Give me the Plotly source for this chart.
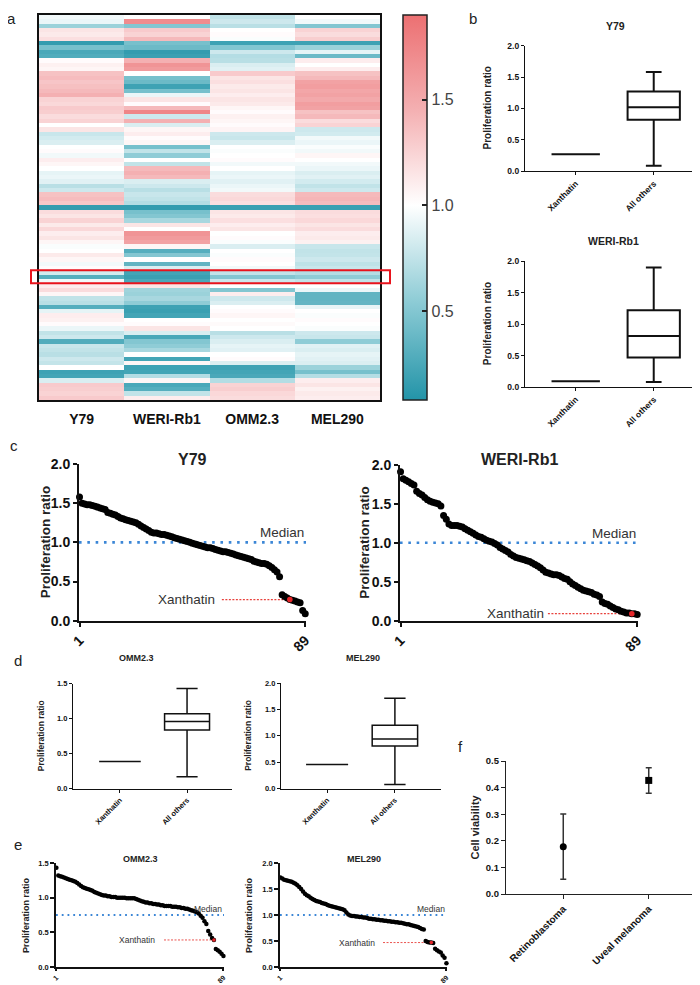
import plotly.graph_objects as go

W, H = 700, 985
FONT = "Liberation Sans, Arial, sans-serif"

# ---------------- data ----------------
cell_lines = ["Y79", "WERI-Rb1", "OMM2.3", "MEL290"]

heat_y79 = [0.95, 0.92, 0.60, 1.15, 1.12, 1.18, 0.15, 0.45, 0.25, 0.28,
            1.02, 1.08, 1.05, 1.35, 1.38, 1.33, 1.36, 1.40, 1.45, 1.25,
            1.22, 1.30, 1.28, 1.20, 1.25, 1.00, 1.15, 0.78, 0.82, 0.85,
            1.00, 1.02, 0.95, 1.10, 1.05, 1.00, 0.90, 0.92, 0.88, 0.72,
            0.80, 1.35, 1.38, 1.32, 0.15, 1.20, 1.15, 1.25, 1.12, 1.22,
            1.10, 1.15, 1.05, 0.98, 1.00, 1.12, 1.05, 0.95, 1.02, 0.82,
            0.30, 0.95, 1.10, 1.20, 1.05, 0.75, 0.72, 0.30, 0.90, 1.10,
            1.08, 1.02, 0.92, 0.75, 0.80, 0.28, 0.78, 0.75, 0.72, 0.80,
            0.76, 1.00, 0.20, 0.22, 0.85, 1.30, 1.28, 1.25, 1.30]
heat_weri = [1.00, 1.70, 0.50, 1.30, 1.25, 1.40, 0.45, 0.40, 0.15, 0.18,
             1.45, 1.65, 1.60, 1.00, 0.45, 0.40, 0.20, 0.45, 0.92, 1.15,
             1.02, 1.40, 1.75, 0.80, 1.45, 0.85, 1.05, 1.10, 1.02, 1.05,
             0.45, 0.75, 0.55, 1.00, 0.75, 1.40, 1.45, 1.40, 0.85, 0.80,
             0.72, 0.78, 0.75, 0.70, 0.15, 0.45, 0.50, 0.65, 1.15, 1.00,
             1.65, 1.60, 1.55, 1.05, 0.30, 0.50, 1.00, 0.35, 0.85, 0.22,
             0.18, 0.25, 1.15, 0.62, 0.60, 0.65, 0.55, 0.20, 0.18, 0.22,
             1.00, 1.02, 1.15, 0.85, 0.25, 0.50, 0.55, 0.65, 1.00, 0.22,
             1.05, 0.20, 0.22, 0.70, 1.05, 0.25, 0.30, 0.75, 1.10]
heat_omm = [0.75, 0.80, 0.72, 1.00, 1.02, 0.98, 0.20, 0.50, 0.80, 0.70,
            0.72, 0.85, 0.88, 1.30, 1.15, 1.18, 1.12, 1.15, 1.10, 1.15,
            1.12, 1.05, 1.02, 1.08, 1.05, 1.02, 1.06, 0.80, 0.78, 0.85,
            1.00, 0.98, 1.00, 1.02, 0.95, 1.00, 0.90, 0.92, 0.88, 0.92,
            0.95, 1.20, 1.22, 1.18, 0.18, 1.15, 1.12, 1.18, 1.10, 1.15,
            1.00, 1.02, 0.98, 0.85, 1.00, 0.98, 1.02, 1.00, 0.95, 0.75,
            0.50, 0.80, 1.00, 0.50, 1.10, 0.80, 0.85, 1.00, 1.02, 1.05,
            1.00, 1.03, 1.00, 0.72, 0.80, 0.85, 0.90, 0.88, 1.00, 1.02,
            0.85, 0.20, 0.22, 0.25, 0.70, 1.25, 1.28, 1.22, 1.20]
heat_mel = [1.00, 0.95, 0.50, 1.25, 1.20, 1.28, 0.20, 0.60, 0.90, 0.40,
            1.10, 1.00, 1.10, 1.35, 1.40, 1.55, 1.58, 1.52, 1.55, 1.50,
            1.58, 1.55, 1.35, 1.40, 1.20, 1.25, 0.80, 0.82, 0.95, 0.92,
            0.98, 0.95, 1.05, 1.00, 0.95, 0.92, 0.85, 0.88, 0.82, 0.75,
            0.80, 1.40, 1.42, 1.38, 0.18, 1.20, 1.18, 1.22, 1.15, 1.20,
            1.10, 1.12, 1.08, 0.78, 0.75, 0.76, 0.80, 0.74, 0.78, 0.70,
            0.55, 0.75, 1.00, 0.92, 0.35, 0.35, 0.36, 0.90, 1.00, 0.98,
            1.02, 1.00, 0.98, 0.80, 0.78, 0.55, 0.88, 0.85, 0.90, 0.88,
            0.85, 0.60, 0.45, 0.70, 1.10, 1.15, 1.08, 1.12, 1.10]
xanthatin_row = 60  # highlighted row in heat map

# box-plot summaries: [lower whisker, Q1, median, Q3, upper whisker]
box_others = {
    "Y79":      [0.09, 0.82, 1.02, 1.27, 1.58],
    "WERI-Rb1": [0.08, 0.47, 0.81, 1.22, 1.90],
    "OMM2.3":   [0.17, 0.84, 0.96, 1.07, 1.43],
    "MEL290":   [0.08, 0.81, 0.94, 1.20, 1.71],
}
xanthatin_ratio = {"Y79": 0.27, "WERI-Rb1": 0.09, "OMM2.3": 0.39, "MEL290": 0.46}

# ranked proliferation ratios (89 compounds)
rank_y79 = [1.58, 1.50, 1.49, 1.48, 1.48, 1.47, 1.46, 1.45, 1.44, 1.43,
            1.42, 1.38, 1.37, 1.36, 1.35, 1.33, 1.31, 1.30, 1.29, 1.28,
            1.27, 1.26, 1.25, 1.23, 1.21, 1.19, 1.17, 1.15, 1.13, 1.12,
            1.12, 1.11, 1.10, 1.10, 1.09, 1.08, 1.07, 1.06, 1.05, 1.04,
            1.03, 1.02, 1.01, 1.00, 0.99, 0.98, 0.97, 0.96, 0.95, 0.94,
            0.93, 0.93, 0.92, 0.91, 0.90, 0.89, 0.88, 0.88, 0.87, 0.86,
            0.85, 0.84, 0.83, 0.82, 0.81, 0.80, 0.79, 0.78, 0.76, 0.75,
            0.74, 0.73, 0.73, 0.72, 0.70, 0.68, 0.65, 0.62, 0.56, 0.33,
            0.31, 0.29, 0.27, 0.26, 0.25, 0.24, 0.23, 0.13, 0.09]
rank_weri = [1.91, 1.82, 1.80, 1.78, 1.76, 1.74, 1.66, 1.63, 1.61, 1.58,
             1.55, 1.53, 1.52, 1.51, 1.50, 1.47, 1.35, 1.30, 1.24, 1.22,
             1.22, 1.22, 1.21, 1.20, 1.18, 1.16, 1.14, 1.12, 1.10, 1.08,
             1.07, 1.05, 1.03, 1.02, 1.01, 0.99, 0.97, 0.94, 0.92, 0.90,
             0.88, 0.85, 0.83, 0.81, 0.80, 0.79, 0.78, 0.77, 0.76, 0.74,
             0.72, 0.70, 0.68, 0.65, 0.62, 0.61, 0.60, 0.59, 0.59, 0.58,
             0.56, 0.54, 0.53, 0.50, 0.47, 0.45, 0.43, 0.41, 0.39, 0.38,
             0.37, 0.36, 0.34, 0.33, 0.31, 0.24, 0.22, 0.21, 0.19, 0.17,
             0.15, 0.14, 0.12, 0.11, 0.10, 0.10, 0.09, 0.09, 0.08]
rank_omm = [1.43, 1.32, 1.31, 1.30, 1.29, 1.28, 1.27, 1.26, 1.25, 1.24,
            1.23, 1.21, 1.19, 1.17, 1.15, 1.14, 1.13, 1.12, 1.11, 1.10,
            1.08, 1.07, 1.06, 1.05, 1.04, 1.03, 1.03, 1.02, 1.02, 1.01,
            1.01, 1.01, 1.00, 1.00, 1.00, 1.00, 1.00, 0.99, 0.99, 0.99,
            0.99, 0.99, 0.98, 0.97, 0.96, 0.95, 0.94, 0.93, 0.93, 0.92,
            0.92, 0.91, 0.91, 0.90, 0.90, 0.89, 0.89, 0.88, 0.88, 0.88,
            0.88, 0.87, 0.87, 0.87, 0.86, 0.86, 0.85, 0.85, 0.84, 0.84,
            0.83, 0.82, 0.81, 0.80, 0.79, 0.77, 0.74, 0.71, 0.66, 0.62,
            0.52, 0.47, 0.42, 0.39, 0.26, 0.24, 0.22, 0.19, 0.16]
rank_mel = [1.72, 1.70, 1.68, 1.67, 1.66, 1.65, 1.64, 1.62, 1.60, 1.57,
            1.54, 1.50, 1.45, 1.41, 1.38, 1.36, 1.33, 1.31, 1.29, 1.27,
            1.26, 1.25, 1.23, 1.22, 1.21, 1.19, 1.18, 1.17, 1.16, 1.15,
            1.14, 1.13, 1.12, 1.11, 1.09, 1.05, 1.01, 0.99, 0.98, 0.98,
            0.97, 0.97, 0.96, 0.96, 0.95, 0.95, 0.94, 0.93, 0.93, 0.92,
            0.92, 0.91, 0.91, 0.90, 0.90, 0.89, 0.89, 0.88, 0.88, 0.87,
            0.87, 0.86, 0.86, 0.85, 0.85, 0.84, 0.83, 0.82, 0.82, 0.81,
            0.80, 0.79, 0.78, 0.77, 0.75, 0.73, 0.72, 0.50, 0.48, 0.47,
            0.47, 0.46, 0.35, 0.32, 0.30, 0.28, 0.22, 0.18, 0.07]
xanthatin_rank = {"Y79": 83, "WERI-Rb1": 87, "OMM2.3": 84, "MEL290": 81}
median_line = {"Y79": 1.0, "WERI-Rb1": 1.0, "OMM2.3": 0.75, "MEL290": 1.0}

# panel f
tumour_types = ["Retinoblastoma", "Uveal melanoma"]
viability_mean = [0.178, 0.427]
viability_err = [0.123, 0.048]

# ---------------- helpers ----------------
def dom_x(a, b):
    return [a / W, b / W]

def dom_y(top, bottom):
    return [1 - bottom / H, 1 - top / H]

BLACK = "#111111"
fig = go.Figure()
layout = dict()
annotations = []

def ann(text, x, y, size, bold=False, xanchor="center", yanchor="middle",
        xref="paper", yref="paper", angle=0, color="#222222"):
    if xref == "paper":
        x = x / W
    if yref == "paper":
        y = 1 - y / H
    annotations.append(dict(
        text=("<b>%s</b>" % text) if bold else text, x=x, y=y, xref=xref, yref=yref,
        showarrow=False, xanchor=xanchor, yanchor=yanchor, textangle=angle,
        font=dict(family=FONT, size=size, color=color)))

# ---------------- panel a : heat map ----------------
z = [[heat_y79[i], heat_weri[i], heat_omm[i], heat_mel[i]] for i in range(len(heat_y79))]
nrow = len(z)
zmin, zmax = 0.08, 1.90
mid = (1.0 - zmin) / (zmax - zmin)
fig.add_trace(go.Heatmap(
    z=z, x=cell_lines, y=list(range(nrow)), zmin=zmin, zmax=zmax,
    colorscale=[[0, "#2394a8"], [mid * 0.5, "#8ccbd5"], [mid, "#ffffff"],
                [mid + (1 - mid) * 0.5, "#f4b0b2"], [1, "#ec7072"]],
    xaxis="x", yaxis="y", hoverinfo="skip",
    colorbar=dict(x=395 / W, xanchor="left", y=1 - 7 / H, yanchor="top",
                  len=385 / H, lenmode="fraction", thickness=24, thicknessmode="pixels",
                  outlinewidth=1.5, outlinecolor="#222", ticks="inside", ticklen=5,
                  tickwidth=1.5, tickcolor="#222", tickvals=[0.5, 1.0, 1.5],
                  ticktext=["0.5", "1.0", "1.5"], xpad=0, ypad=0,
                  tickfont=dict(family=FONT, size=16, color="#444"))))
heat_dom_y = dom_y(7, 392)
layout["xaxis"] = dict(domain=dom_x(31, 372), anchor="y", showline=True, mirror=True,
                       linecolor=BLACK, linewidth=2, ticks="outside", ticklen=5,
                       tickcolor="rgba(0,0,0,0)", showgrid=False, zeroline=False,
                       tickfont=dict(family=FONT, size=14, color=BLACK, weight="bold"))
layout["yaxis"] = dict(domain=heat_dom_y, anchor="x", range=[nrow - 0.5, -0.5],
                       showline=True, mirror=True, linecolor=BLACK, linewidth=2,
                       showticklabels=False, ticks="", showgrid=False, zeroline=False)
rh = (heat_dom_y[1] - heat_dom_y[0]) / nrow
shapes = [dict(type="rect", xref="paper", yref="paper",
               x0=23 / W, x1=382 / W,
               y0=heat_dom_y[1] - (xanthatin_row + 2) * rh,
               y1=heat_dom_y[1] - (xanthatin_row - 1) * rh,
               line=dict(color="#e8131c", width=2))]
ann("a", 3, 10, 15)

# ---------------- box plots ----------------
def box_panel(idx, name, xd, yd, ymax, rng, tfs, lw, wwidth, titley, titlex, ylabx, labfs):
    xa, ya = "x%d" % idx, "y%d" % idx
    lo, q1, md, q3, hi = box_others[name]
    xv = xanthatin_ratio[name]
    fig.add_trace(go.Box(x=["Xanthatin"], q1=[xv], median=[xv], q3=[xv],
                         lowerfence=[xv], upperfence=[xv], width=0.62,
                         whiskerwidth=0.0, fillcolor="white",
                         line=dict(color=BLACK, width=lw), xaxis=xa, yaxis=ya,
                         boxpoints=False, hoverinfo="skip"))
    fig.add_trace(go.Box(x=["All others"], q1=[q1], median=[md], q3=[q3],
                         lowerfence=[lo], upperfence=[hi], width=0.67,
                         whiskerwidth=wwidth, fillcolor="white",
                         line=dict(color=BLACK, width=lw), xaxis=xa, yaxis=ya,
                         boxpoints=False, hoverinfo="skip"))
    layout["xaxis%d" % idx] = dict(
        domain=dom_x(*xd), anchor=ya, type="category",
        categoryorder="array", categoryarray=["Xanthatin", "All others"],
        range=rng, showline=True, linecolor=BLACK, linewidth=1.3, ticks="outside",
        ticklen=3, tickwidth=1.2, tickcolor=BLACK, tickangle=-45, showgrid=False,
        zeroline=False, tickfont=dict(family=FONT, size=tfs, color=BLACK, weight="bold"))
    layout["yaxis%d" % idx] = dict(
        domain=dom_y(*yd), anchor=xa, range=[0, ymax],
        tickvals=[v * 0.5 for v in range(int(ymax * 2) + 1)], tickformat=".1f",
        showline=True, linecolor=BLACK, linewidth=1.3, ticks="outside", ticklen=3,
        tickwidth=1.2, tickcolor=BLACK, showgrid=False, zeroline=False,
        tickfont=dict(family=FONT, size=tfs, color=BLACK, weight="bold"))
    ann(name, titlex, titley, labfs + 0.5, bold=True)
    ann("Proliferation ratio", ylabx, (yd[0] + yd[1]) / 2, labfs, bold=True, angle=-90)

box_panel(2, "Y79", (517, 698), (37.7, 163.3), 2.0, [-0.65, 1.67], 8.5, 2, 0.3, 18, 607, 479, 10)
box_panel(3, "WERI-Rb1", (517, 698), (253.3, 379), 2.0, [-0.65, 1.67], 8.5, 2, 0.3, 233, 605, 479, 10)
ann("b", 465, 10, 15)
box_panel(6, "OMM2.3", (65, 224), (675.7, 780.7), 1.5, [-0.70, 1.67], 7.5, 1.5, 0.47, 650, 128, 33, 8.5)
box_panel(7, "MEL290", (273, 433), (675, 780.7), 2.0, [-0.68, 1.68], 7.5, 1.5, 0.47, 650, 355, 240, 8.5)
ann("d", 10, 652, 15)

# ---------------- ranked scatter plots ----------------
def rank_panel(idx, name, vals, xd, yd, ymax, tfs, xtfs, msize, lw_axis, title_y, titlefs,
               ylabx, labfs, med_y, xan_start, xan_text_x, annfs, mlw, tlen):
    xa, ya = "x%d" % idx, "y%d" % idx
    n = len(vals)
    ranks = list(range(1, n + 1))
    xr = [0.8, n + 0.3]
    # median line
    fig.add_trace(go.Scatter(x=[xr[0], n + 0.5], y=[median_line[name]] * 2, mode="lines",
                             line=dict(color="#3b86d6", width=mlw, dash="%gpx,%gpx" % (mlw, mlw * 2.2)),
                             xaxis=xa, yaxis=ya, hoverinfo="skip", cliponaxis=False))
    # xanthatin leader
    xr_i = xanthatin_rank[name]
    fig.add_trace(go.Scatter(x=[xan_start, xr_i], y=[vals[xr_i - 1]] * 2, mode="lines",
                             line=dict(color="#e8413c", width=mlw * 0.5, dash="2px,1.5px"),
                             xaxis=xa, yaxis=ya, hoverinfo="skip", cliponaxis=False))
    fig.add_trace(go.Scatter(x=ranks, y=vals, mode="markers",
                             marker=dict(color="black", size=msize),
                             xaxis=xa, yaxis=ya, hoverinfo="skip", cliponaxis=False))
    fig.add_trace(go.Scatter(x=[xr_i], y=[vals[xr_i - 1]], mode="markers",
                             marker=dict(color="#e5262a", size=msize * 0.8),
                             xaxis=xa, yaxis=ya, hoverinfo="skip", cliponaxis=False))
    layout["xaxis%d" % idx] = dict(
        domain=dom_x(*xd), anchor=ya, range=xr, tickvals=[1, n], ticktext=["1", str(n)],
        showline=True, linecolor=BLACK, linewidth=lw_axis, ticks="outside", ticklen=tlen,
        tickwidth=lw_axis, tickcolor=BLACK, tickangle=-45, showgrid=False, zeroline=False,
        tickfont=dict(family=FONT, size=xtfs, color=BLACK, weight="bold"))
    layout["yaxis%d" % idx] = dict(
        domain=dom_y(*yd), anchor=xa, range=[0, ymax],
        tickvals=[v * 0.5 for v in range(int(ymax * 2) + 1)], tickformat=".1f",
        showline=True, linecolor=BLACK, linewidth=lw_axis, ticks="outside", ticklen=4,
        tickwidth=lw_axis, tickcolor=BLACK, showgrid=False, zeroline=False,
        tickfont=dict(family=FONT, size=tfs, color=BLACK, weight="bold"))
    ann(name, (xd[0] + xd[1]) / 2, title_y, titlefs, bold=True)
    ann("Proliferation ratio", ylabx, (yd[0] + yd[1]) / 2, labfs, bold=True, angle=-90)
    ann("Median", xr[1], med_y, annfs, xanchor="right", xref=xa, yref=ya, color="#333")
    ann("Xanthatin", xan_text_x, vals[xr_i - 1], annfs, xanchor="right", xref=xa, yref=ya,
        color="#333")

rank_panel(4, "Y79", rank_y79, (71, 298), (456, 612.7), 2.0, 14, 14, 7, 2, 452, 16,
           37, 13.5, 1.13, 56.5, 54.5, 13.5, 2.6, 4)
rank_panel(5, "WERI-Rb1", rank_weri, (392, 630), (456.7, 612.7), 2.0, 14, 14, 7, 2, 452, 16,
           357, 13.5, 1.12, 55.8, 55.2, 13.5, 2.6, 4)
ann("c", 6, 437, 15)
rank_panel(8, "OMM2.3", rank_omm, (48, 216), (855, 959), 1.5, 7.5, 7, 4.5, 1.5, 851, 9,
           18, 9, 0.84, 57.7, 54, 8.5, 1.8, 2)
rank_panel(9, "MEL290", rank_mel, (272, 439), (855, 959), 2.0, 7.5, 7, 4.5, 1.5, 851, 9,
           241, 9, 1.12, 55.4, 52, 8.5, 1.8, 2)
ann("e", 10, 836, 15)

# ---------------- panel f ----------------
for i, t in enumerate(tumour_types):
    fig.add_trace(go.Scatter(
        x=[t], y=[viability_mean[i]], mode="markers",
        marker=dict(color="black", size=7, symbol="circle" if i == 0 else "square"),
        error_y=dict(type="data", array=[viability_err[i]], color="#333", thickness=1.5, width=3),
        xaxis="x10", yaxis="y10", hoverinfo="skip", cliponaxis=False))
layout["xaxis10"] = dict(domain=dom_x(498, 698), anchor="y10", type="category",
                         categoryorder="array", categoryarray=tumour_types,
                         range=[-0.67, 1.67], showline=True, linecolor="#222", linewidth=1.3,
                         ticks="outside", ticklen=4, tickcolor="#222", tickangle=-45,
                         showgrid=False, zeroline=False,
                         tickfont=dict(family=FONT, size=10, color=BLACK, weight="bold"))
layout["yaxis10"] = dict(domain=dom_y(753, 886), anchor="x10", range=[0, 0.5], dtick=0.1,
                         tickformat=".1f", showline=True, linecolor="#222", linewidth=1.3,
                         ticks="outside", ticklen=4, tickcolor="#222", showgrid=False,
                         zeroline=False,
                         tickfont=dict(family=FONT, size=9.5, color=BLACK, weight="bold"))
ann("Cell viability", 466, (753 + 886) / 2, 11, bold=True, angle=-90)
ann("f", 452, 738, 15)

fig.update_layout(**layout)
fig.update_layout(width=W, height=H, autosize=False,
                  margin=dict(l=0, r=0, t=0, b=0, autoexpand=False),
                  paper_bgcolor="white", plot_bgcolor="white", showlegend=False,
                  annotations=annotations, shapes=shapes, boxmode="overlay")
fig.write_html("out.html")
